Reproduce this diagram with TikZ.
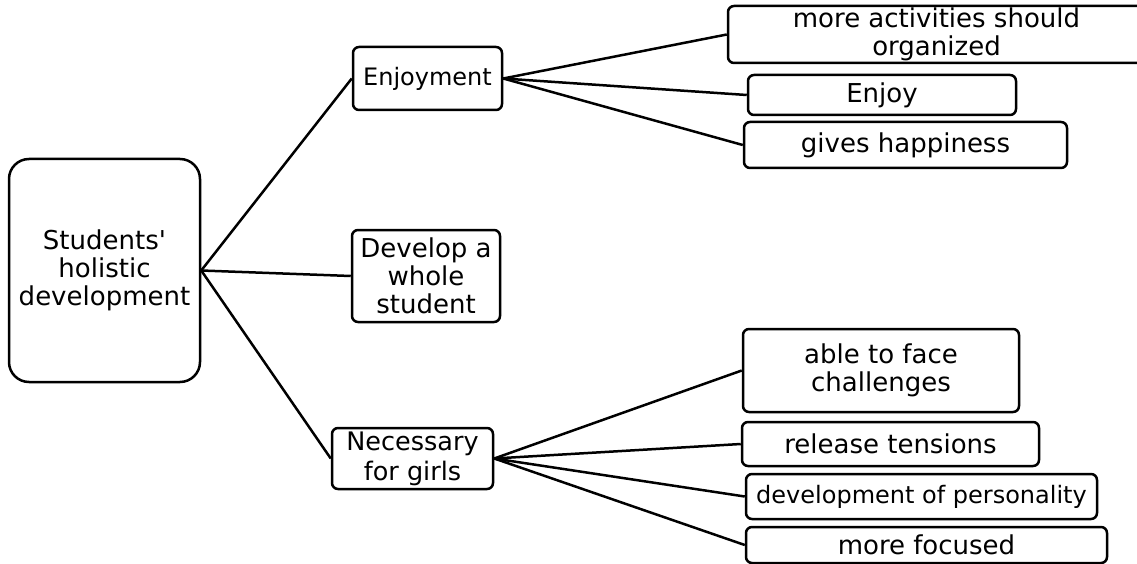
\documentclass[tikz,border=0pt]{standalone}
\usepackage{fontspec}
\setmainfont{DejaVu Sans}
\begin{document}
\begin{tikzpicture}[x=1pt,y=-1pt,
  box/.style={draw, line width=2.5pt, rounded corners=6pt, inner sep=0pt,
    align=center, font=\fontsize{26}{28}\selectfont},
  smalltext/.style={font=\fontsize{24}{26}\selectfont},
  link/.style={line width=2.5pt}]
\useasboundingbox (0,0) rectangle (1137,564);

% central topic
\node[box, rounded corners=20pt, minimum width=191pt, minimum height=223pt]
  (root) at (104.5,270.5) {Students\textquotesingle\\holistic\\development};

% first level
\node[box, smalltext, minimum width=149pt, minimum height=63pt]
  (enj) at (427.5,78.5) {Enjoyment};
\node[box, minimum width=148pt, minimum height=92pt]
  (dev) at (426,276) {Develop a\\whole\\student};
\node[box, font=\fontsize{25.5}{30}\selectfont, minimum width=161pt, minimum height=61pt]
  (nec) at (412.5,458.5) {Necessary\\for girls};

% branches of Enjoyment
\node[box, font=\fontsize{26}{27.5}\selectfont, minimum width=417pt, minimum height=57pt]
  (act) at (936.5,34.5) {more activities should\\organized};
\node[box, minimum width=268pt, minimum height=40pt]
  (enjoy) at (882,95) {Enjoy};
\node[box, minimum width=323pt, minimum height=46pt]
  (happy) at (905.5,145) {gives happiness};

% branches of Necessary for girls
\node[box, minimum width=276pt, minimum height=83pt]
  (face) at (881,370.5) {able to face\\challenges};
\node[box, minimum width=297pt, minimum height=44pt]
  (tens) at (890.5,444) {release tensions};
\node[box, smalltext, minimum width=351pt, minimum height=45pt]
  (pers) at (921.5,496.5) {development of personality};
\node[box, minimum width=361pt, minimum height=36pt]
  (foc) at (926.5,545) {more focused};

% connectors
\draw[link] (root.east) -- (enj.west);
\draw[link] (root.east) -- (dev.west);
\draw[link] (root.east) -- (nec.west);
\draw[link] (enj.east) -- (act.west);
\draw[link] (enj.east) -- (enjoy.west);
\draw[link] (enj.east) -- (happy.west);
\draw[link] (nec.east) -- (face.west);
\draw[link] (nec.east) -- (tens.west);
\draw[link] (nec.east) -- (pers.west);
\draw[link] (nec.east) -- (foc.west);
\end{tikzpicture}
\end{document}
